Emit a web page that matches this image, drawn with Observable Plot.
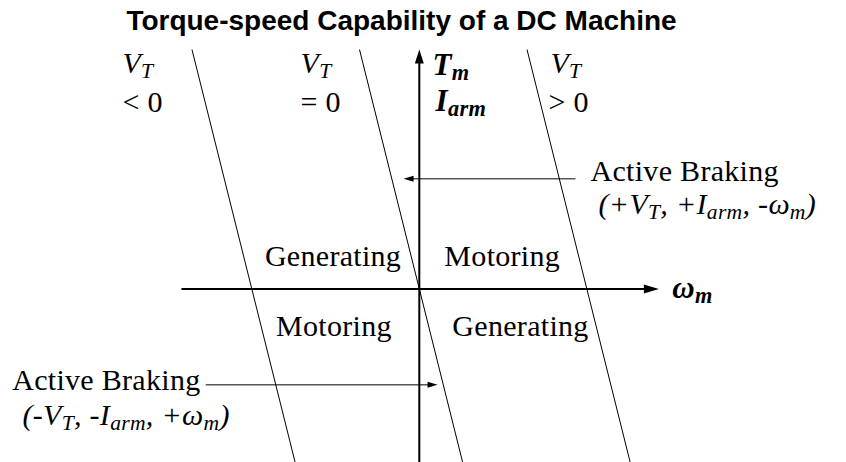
<!DOCTYPE html>
<html>
<head>
<meta charset="utf-8">
<script src="https://cdn.jsdelivr.net/npm/d3@7"></script>
<script src="https://cdn.jsdelivr.net/npm/@observablehq/plot@0.6"></script>
<style>
  html, body { margin: 0; padding: 0; background: #fff; }
  #wrap { position: relative; width: 846px; height: 462px; overflow: hidden; }
  #chart { position: absolute; left: 0; top: 0; }
  #chart text { letter-spacing: 0.3px; }
  #title { position: absolute; left: 0; top: 7px; width: 803px; text-align: center;
           font: bold 28px "Liberation Sans", Arial, sans-serif; line-height: 1; white-space: nowrap; }
</style>
</head>
<body>
<div id="wrap">
  <div id="chart"></div>
  <div id="title"></div>
</div>
<script>
// ---------------- data ----------------
const title = "Torque-speed Capability of a DC Machine";

// speed–torque lines for three terminal voltages (ω at the top and bottom torque)
const voltageLabels = ["V_{T}", "V_{T}", "V_{T}"];
const voltageRelations = ["< 0", "= 0", "> 0"];
const lineOmegaTop = [-1.357, -0.357, 0.643];
const lineOmegaBottom = [-0.741, 0.259, 1.259];
const torqueTop = 1.4275;
const torqueBottom = -1.035;

// axes (ω horizontal, T vertical)
const omegaAxisExtent = [-1.42, 1.43];
const torqueAxisExtent = [-1.035, 1.4275];
const axisLabels = ["T_{m}", "I_{arm}", "ω_{m}"];
const axisLabelOmega = [0.079, 0.097, 1.51];
const axisLabelTorque = [1.273, 1.061, -0.055];

// voltage label anchors
const voltageLabelOmega = [-1.772, -0.709, 0.783];
const voltageRelationOmega = [-1.772, -0.709, 0.771];
const voltageLabelTorque = 1.285;
const voltageRelationTorque = 1.058;

// quadrant labels
const quadrantLabels = ["Generating", "Motoring", "Motoring", "Generating"];
const quadrantOmega = [-0.515, 0.495, -0.510, 0.604];
const quadrantTorque = [0.1395, 0.1395, -0.278, -0.278];

// active braking call-outs
const brakingLabels = ["Active Braking", "Active Braking"];
const brakingSigns = ["(+V_{T}, +I_{arm}, -ω_{m})", "(-V_{T}, -I_{arm}, +ω_{m})"];
const brakingLabelOmega = [1.022, -1.306];
const brakingLabelTorque = [0.646, -0.603];
const brakingSignOmega = [1.07, -2.369];
const brakingSignTorque = [0.444, -0.814];
const pointerFromOmega = [0.932, -1.275];
const pointerToOmega = [-0.094, 0.109];
const pointerTorque = [0.6565, -0.572];

// ---------------- tables ----------------
const lines = lineOmegaTop.map((w, i) => ({w1: w, t1: torqueTop, w2: lineOmegaBottom[i], t2: torqueBottom}));
const axes = [
  {w1: omegaAxisExtent[0], t1: 0, w2: omegaAxisExtent[1], t2: 0},
  {w1: 0, t1: torqueAxisExtent[0], w2: 0, t2: torqueAxisExtent[1]}
];
const pointers = pointerFromOmega.map((w, i) => ({w1: w, t1: pointerTorque[i], w2: pointerToOmega[i], t2: pointerTorque[i]}));
const vLabels = voltageLabels.map((s, i) => ({s, w: voltageLabelOmega[i], t: voltageLabelTorque}));
const vRels = voltageRelations.map((s, i) => ({s, w: voltageRelationOmega[i], t: voltageRelationTorque}));
const aLabels = axisLabels.map((s, i) => ({s, w: axisLabelOmega[i], t: axisLabelTorque[i]}));
const quads = quadrantLabels.map((s, i) => ({s, w: quadrantOmega[i], t: quadrantTorque[i]}));
const brakeUpper = [{s: brakingLabels[0], w: brakingLabelOmega[0], t: brakingLabelTorque[0]}];
const brakeLower = [{s: brakingLabels[1], w: brakingLabelOmega[1], t: brakingLabelTorque[1]}];
const signs = brakingSigns.map((s, i) => ({s, w: brakingSignOmega[i], t: brakingSignTorque[i]}));

// arrowhead symbols (tip at the point)
const headUp = {draw(c) { c.moveTo(0, 0); c.lineTo(-4.5, 14); c.lineTo(4.5, 14); c.closePath(); }};
const headRight = {draw(c) { c.moveTo(0, 0); c.lineTo(-15, -4.5); c.lineTo(-15, 4.5); c.closePath(); }};
const smallLeft = {draw(c) { c.moveTo(0, 0); c.lineTo(10, -3); c.lineTo(10, 3); c.closePath(); }};
const smallRight = {draw(c) { c.moveTo(0, 0); c.lineTo(-10, -3); c.lineTo(-10, 3); c.closePath(); }};

const serif = "'Liberation Serif', 'Times New Roman', serif";
const fs = 30;
const txt = (data, opts) => Plot.text(data, {x: "w", y: "t", text: "s", lineAnchor: "bottom",
  fontFamily: serif, fontSize: fs, fill: "black", ...opts});

const chart = Plot.plot({
  width: 846,
  height: 462,
  margin: 0,
  x: {domain: [-2.5, 2.55], axis: null},
  y: {domain: [-1.035, 1.72], axis: null},
  style: {background: "white", color: "black", overflow: "visible"},
  marks: [
    Plot.link(lines, {x1: "w1", y1: "t1", x2: "w2", y2: "t2", stroke: "black", strokeWidth: 1}),
    Plot.arrow(axes, {x1: "w1", y1: "t1", x2: "w2", y2: "t2", headLength: 0, insetEnd: 10,
      stroke: "black", strokeWidth: 2, strokeLinecap: "butt"}),
    Plot.arrow(pointers, {x1: "w1", y1: "t1", x2: "w2", y2: "t2", headLength: 0, insetEnd: 5,
      stroke: "black", strokeWidth: 1, strokeLinecap: "butt"}),
    Plot.dot([axes[1]], {x: "w2", y: "t2", symbol: headUp, fill: "black", stroke: "none"}),
    Plot.dot([axes[0]], {x: "w2", y: "t2", symbol: headRight, fill: "black", stroke: "none"}),
    Plot.dot([pointers[0]], {x: "w2", y: "t2", symbol: smallLeft, fill: "black", stroke: "none"}),
    Plot.dot([pointers[1]], {x: "w2", y: "t2", symbol: smallRight, fill: "black", stroke: "none"}),
    txt(vLabels, {textAnchor: "start", fontStyle: "italic"}),
    txt(vRels, {textAnchor: "start"}),
    txt(aLabels, {textAnchor: "start", fontStyle: "italic", fontWeight: "bold", fontSize: 31}),
    txt(quads, {textAnchor: "middle"}),
    txt(brakeUpper, {textAnchor: "start"}),
    txt(brakeLower, {textAnchor: "end"}),
    txt(signs, {textAnchor: "start", fontStyle: "italic"})
  ]
});

// turn X_{sub} markup into real subscripts
const subShift = 5;
d3.select(chart).selectAll("text").each(function () {
  const s = this.textContent;
  if (!s.includes("_{")) return;
  const parts = s.split(/(_\{[^}]*\})/).filter(p => p.length);
  this.textContent = "";
  let shifted = false;
  for (const p of parts) {
    const t = d3.select(this).append("tspan");
    if (p.startsWith("_{")) {
      t.text(p.slice(2, -1)).style("font-size", "0.72em").attr("dy", subShift);
      shifted = true;
    } else {
      t.text(p);
      if (shifted) { t.attr("dy", -subShift); shifted = false; }
    }
  }
});

document.getElementById("chart").appendChild(chart);
document.getElementById("title").textContent = title;
</script>
</body>
</html>
